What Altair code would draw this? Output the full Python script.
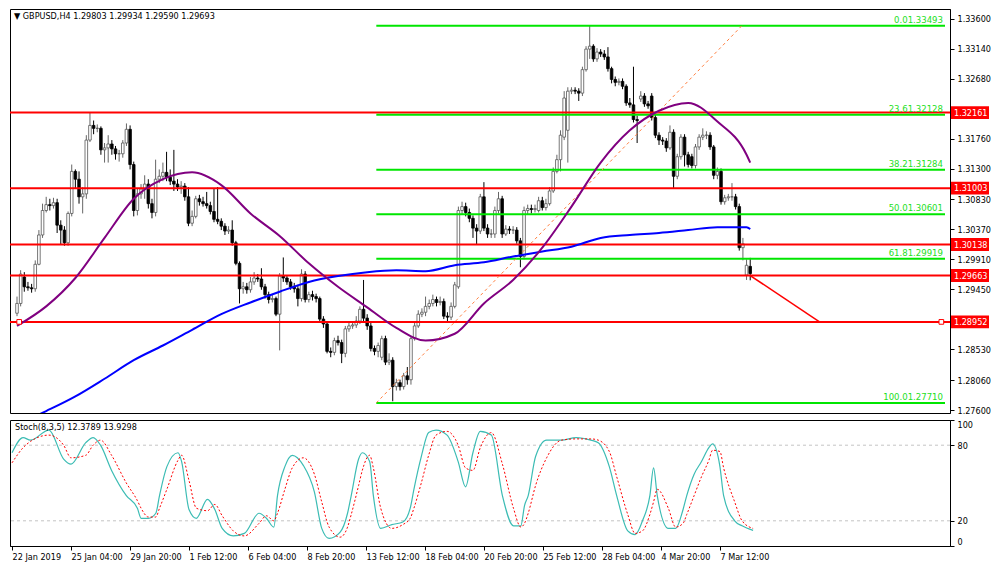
import json
import altair as alt
import pandas as pd

# ---------------- data ----------------
opens = [
    1.29085, 1.29235, 1.29640, 1.29490, 1.29475, 1.29460, 1.29835, 1.30285, 1.30660, 1.30750,
    1.30735, 1.30780, 1.30435, 1.30360, 1.30165, 1.30615, 1.31260, 1.31140, 1.30870, 1.30915,
    1.31740, 1.31965, 1.31920, 1.31920, 1.31590, 1.31620, 1.31680, 1.31605, 1.31530, 1.31530,
    1.31695, 1.31905, 1.31365, 1.30660, 1.30915, 1.30990, 1.31065, 1.30765, 1.30630, 1.31140,
    1.31185, 1.31245, 1.31170, 1.31110, 1.31065, 1.31020, 1.31035, 1.30870, 1.30465, 1.30570,
    1.30840, 1.30795, 1.30765, 1.30735, 1.30645, 1.30525, 1.30495, 1.30420, 1.30345, 1.30360,
    1.30165, 1.29850, 1.29460, 1.29490, 1.29445, 1.29565, 1.29625, 1.29610, 1.29490, 1.29370,
    1.29295, 1.29310, 1.29070, 1.29655, 1.29625, 1.29565, 1.29490, 1.29460, 1.29310, 1.29685,
    1.29295, 1.29370, 1.29340, 1.29310, 1.28995, 1.28920, 1.28500, 1.28485, 1.28665, 1.28635,
    1.28470, 1.28845, 1.28890, 1.28905, 1.28965, 1.29145, 1.29010, 1.28890, 1.28545, 1.28500,
    1.28410, 1.28695, 1.28335, 1.28365, 1.27960, 1.28020, 1.27960, 1.28125, 1.28065, 1.28695,
    1.28890, 1.29070, 1.29100, 1.29190, 1.29235, 1.29295, 1.29250, 1.29265, 1.29040, 1.29025,
    1.29190, 1.29490, 1.30660, 1.30720, 1.30630, 1.30540, 1.30390, 1.30345, 1.30870, 1.30390,
    1.30300, 1.30300, 1.30660, 1.30840, 1.30300, 1.30375, 1.30360, 1.30360, 1.30195, 1.29955,
    1.30660, 1.30690, 1.30675, 1.30660, 1.30810, 1.30705, 1.30765, 1.30960, 1.31260, 1.31440,
    1.31785, 1.31890, 1.32490, 1.32505, 1.32490, 1.32460, 1.32820, 1.33135, 1.33180, 1.32985,
    1.33090, 1.33060, 1.33015, 1.32835, 1.32670, 1.32625, 1.32640, 1.32565, 1.32310, 1.32280,
    1.32055, 1.32370, 1.32415, 1.32295, 1.32415, 1.32085, 1.31815, 1.31740, 1.31725, 1.31620,
    1.31860, 1.31185, 1.31485, 1.31785, 1.31515, 1.31485, 1.31350, 1.31635, 1.31785, 1.31815,
    1.31815, 1.31635, 1.31200, 1.31260, 1.30795, 1.30855, 1.30870, 1.30870, 1.30720, 1.30090,
    1.29670, 1.29803,
]
closes = [
    1.29235, 1.29685, 1.29490, 1.29475, 1.29460, 1.29835, 1.30285, 1.30660, 1.30750, 1.30735,
    1.30780, 1.30435, 1.30360, 1.30165, 1.30615, 1.31260, 1.31140, 1.30870, 1.30915, 1.31740,
    1.31965, 1.31920, 1.31920, 1.31590, 1.31620, 1.31680, 1.31605, 1.31530, 1.31530, 1.31695,
    1.31905, 1.31365, 1.30660, 1.30915, 1.30990, 1.31065, 1.30765, 1.30630, 1.31140, 1.31185,
    1.31245, 1.31170, 1.31110, 1.31065, 1.31020, 1.31035, 1.30870, 1.30465, 1.30570, 1.30840,
    1.30795, 1.30765, 1.30735, 1.30645, 1.30525, 1.30495, 1.30420, 1.30345, 1.30360, 1.30165,
    1.29850, 1.29460, 1.29490, 1.29445, 1.29565, 1.29625, 1.29610, 1.29490, 1.29370, 1.29295,
    1.29310, 1.29070, 1.29655, 1.29625, 1.29565, 1.29490, 1.29460, 1.29310, 1.29685, 1.29295,
    1.29370, 1.29340, 1.29310, 1.28995, 1.28920, 1.28500, 1.28485, 1.28665, 1.28635, 1.28470,
    1.28845, 1.28890, 1.28905, 1.28965, 1.29145, 1.29010, 1.28890, 1.28545, 1.28500, 1.28590,
    1.28695, 1.28335, 1.28365, 1.27960, 1.28020, 1.27960, 1.28125, 1.28065, 1.28695, 1.28890,
    1.29070, 1.29100, 1.29190, 1.29235, 1.29295, 1.29250, 1.29265, 1.29040, 1.29025, 1.29190,
    1.29520, 1.30660, 1.30720, 1.30630, 1.30540, 1.30390, 1.30345, 1.30870, 1.30390, 1.30300,
    1.30300, 1.30660, 1.30840, 1.30300, 1.30375, 1.30360, 1.30360, 1.30195, 1.29955, 1.30660,
    1.30690, 1.30675, 1.30690, 1.30810, 1.30705, 1.30765, 1.30960, 1.31260, 1.31440, 1.31815,
    1.32385, 1.32490, 1.32505, 1.32490, 1.32460, 1.32820, 1.33135, 1.33180, 1.32985, 1.33090,
    1.33060, 1.33015, 1.32835, 1.32670, 1.32625, 1.32640, 1.32565, 1.32310, 1.32280, 1.32055,
    1.32040, 1.32415, 1.32295, 1.32265, 1.32085, 1.31815, 1.31740, 1.31725, 1.31620, 1.31860,
    1.31185, 1.31485, 1.31785, 1.31515, 1.31365, 1.31350, 1.31635, 1.31785, 1.31815, 1.31815,
    1.31635, 1.31200, 1.31260, 1.30795, 1.30855, 1.30870, 1.30870, 1.30720, 1.30090, 1.30150,
    1.29820, 1.29693,
]
highs = [
    1.29340, 1.29745, 1.29715, 1.29565, 1.29535, 1.29895, 1.30360, 1.30765, 1.30870, 1.30840,
    1.30855, 1.30840, 1.30510, 1.30420, 1.30645, 1.31365, 1.31290, 1.31260, 1.31020, 1.31815,
    1.32160, 1.32040, 1.31980, 1.31950, 1.31695, 1.31815, 1.31740, 1.31650, 1.31590, 1.31740,
    1.31995, 1.31965, 1.31410, 1.30990, 1.31065, 1.31200, 1.31140, 1.30840, 1.31440, 1.31290,
    1.31395, 1.31560, 1.31290, 1.31590, 1.31140, 1.31110, 1.31080, 1.31020, 1.30660, 1.30885,
    1.30900, 1.30870, 1.30945, 1.30795, 1.30990, 1.31020, 1.30540, 1.30465, 1.30420, 1.30510,
    1.30195, 1.29880, 1.29565, 1.29550, 1.29640, 1.29715, 1.29685, 1.29775, 1.29535, 1.29415,
    1.29370, 1.29340, 1.29700, 1.29940, 1.29670, 1.29610, 1.29550, 1.29520, 1.29760, 1.29730,
    1.29415, 1.29430, 1.29385, 1.29340, 1.29040, 1.28950, 1.28560, 1.28710, 1.28740, 1.28680,
    1.28890, 1.28935, 1.28965, 1.29040, 1.29190, 1.29595, 1.29070, 1.28950, 1.28590, 1.28635,
    1.28740, 1.28740, 1.28470, 1.28410, 1.28080, 1.28065, 1.28170, 1.28260, 1.28740, 1.28950,
    1.29130, 1.29160, 1.29340, 1.29295, 1.29370, 1.29340, 1.29340, 1.29310, 1.29100, 1.29250,
    1.29565, 1.30720, 1.30795, 1.30780, 1.30690, 1.30585, 1.30450, 1.30915, 1.31095, 1.30450,
    1.30375, 1.30720, 1.30945, 1.30885, 1.30435, 1.30420, 1.30420, 1.30405, 1.30240, 1.30720,
    1.30750, 1.30750, 1.30750, 1.30870, 1.30870, 1.30840, 1.31020, 1.31320, 1.31515, 1.31890,
    1.32490, 1.32550, 1.32550, 1.32550, 1.32535, 1.32865, 1.33180, 1.33495, 1.33210, 1.33150,
    1.33135, 1.33120, 1.33165, 1.32865, 1.32715, 1.32685, 1.32685, 1.32595, 1.32385, 1.32865,
    1.32115, 1.32490, 1.32460, 1.32340, 1.32460, 1.32130, 1.31860, 1.31785, 1.31770, 1.31965,
    1.31905, 1.31530, 1.31830, 1.31830, 1.31560, 1.31530, 1.31680, 1.31830, 1.31920, 1.31875,
    1.31860, 1.31665, 1.31320, 1.31305, 1.30900, 1.30915, 1.31080, 1.30915, 1.30765, 1.30240,
    1.29910, 1.29934,
]
lows = [
    1.29040, 1.29190, 1.29415, 1.29430, 1.29400, 1.29415, 1.29820, 1.30240, 1.30630, 1.30660,
    1.30690, 1.30315, 1.30135, 1.30120, 1.30120, 1.30570, 1.30990, 1.30765, 1.30615, 1.30840,
    1.31710, 1.31830, 1.31860, 1.31515, 1.31395, 1.31395, 1.31515, 1.31440, 1.31410, 1.31470,
    1.31650, 1.31290, 1.30570, 1.30585, 1.30840, 1.30840, 1.30690, 1.30540, 1.30570, 1.31080,
    1.31110, 1.31110, 1.31050, 1.30960, 1.30960, 1.30915, 1.30810, 1.30420, 1.30420, 1.30540,
    1.30735, 1.30720, 1.30690, 1.30600, 1.30480, 1.30450, 1.30360, 1.30285, 1.30300, 1.30120,
    1.29820, 1.29235, 1.29385, 1.29385, 1.29400, 1.29520, 1.29565, 1.29445, 1.29310, 1.29235,
    1.29250, 1.29040, 1.28515, 1.29565, 1.29520, 1.29445, 1.29400, 1.29190, 1.29265, 1.29250,
    1.29250, 1.29280, 1.29250, 1.28950, 1.28860, 1.28470, 1.28410, 1.28440, 1.28590, 1.28320,
    1.28410, 1.28800, 1.28845, 1.28860, 1.28920, 1.28965, 1.28830, 1.28500, 1.28440, 1.28410,
    1.28365, 1.28290, 1.28290, 1.27735, 1.27900, 1.27900, 1.27915, 1.27990, 1.27990, 1.28665,
    1.28860, 1.29025, 1.29040, 1.29145, 1.29190, 1.29190, 1.29205, 1.28995, 1.28950, 1.28980,
    1.29160, 1.29460, 1.30600, 1.30570, 1.30480, 1.30240, 1.30135, 1.30300, 1.30345, 1.30240,
    1.30240, 1.30240, 1.30615, 1.30240, 1.30270, 1.30300, 1.30300, 1.30150, 1.29790, 1.29910,
    1.30600, 1.30615, 1.30630, 1.30630, 1.30660, 1.30660, 1.30735, 1.30930, 1.31230, 1.31260,
    1.31740, 1.31395, 1.32445, 1.32445, 1.32340, 1.32415, 1.32790, 1.32985, 1.32940, 1.32940,
    1.33015, 1.32970, 1.32790, 1.32610, 1.32565, 1.32580, 1.32520, 1.32265, 1.32235, 1.32010,
    1.31695, 1.32325, 1.32250, 1.32220, 1.32040, 1.31770, 1.31665, 1.31665, 1.31560, 1.31590,
    1.30990, 1.31140, 1.31440, 1.31335, 1.31320, 1.31305, 1.31305, 1.31590, 1.31740, 1.31755,
    1.31590, 1.31140, 1.31140, 1.30750, 1.30750, 1.30810, 1.30810, 1.30675, 1.30045, 1.29895,
    1.29595, 1.29590,
]

ma_bars = [0, 8, 16, 24, 32, 40, 48, 56, 64, 72, 80, 88, 96, 104, 112, 120, 128,
           136, 144, 152, 160, 168, 176, 184, 192, 200, 201]
ma_purple = [1.28890, 1.29190, 1.29625, 1.30240, 1.30840, 1.31140, 1.31245, 1.31050, 1.30615,
             1.30270, 1.29850, 1.29490, 1.29175, 1.28860, 1.28665, 1.28770, 1.29235, 1.29595,
             1.30090, 1.30720, 1.31395, 1.31890, 1.32190, 1.32310, 1.32025, 1.31515, 1.31395]
ma_blue = [1.27375, 1.27585, 1.27810, 1.28080, 1.28365, 1.28590, 1.28830, 1.29070, 1.29250,
           1.29415, 1.29565, 1.29655, 1.29715, 1.29745, 1.29730, 1.29820, 1.29865, 1.29955,
           1.30030, 1.30105, 1.30240, 1.30285, 1.30315, 1.30360, 1.30405, 1.30405, 1.30375]

red_levels = [1.32161, 1.31003, 1.30138, 1.29663, 1.28952]

fib_names = ["0.0", "23.6", "38.2", "50.0", "61.8", "100.0"]
fib_prices = [1.33493, 1.32128, 1.31284, 1.30601, 1.29919, 1.27710]
fib_anchor_bars = [98.5, 198.7]
fib_anchor_prices = [1.27710, 1.33493]

trend_bars = [201, 220]
trend_prices = [1.29663, 1.28952]

stoch_bars = [0, 3, 5, 10, 14, 16, 20, 22, 24, 27, 31, 34, 35, 37, 39, 40, 42, 45, 46, 48,
              50, 53, 55, 57, 60, 63, 67, 69, 71, 72, 74, 76, 79, 82, 84, 86, 89, 91, 92, 94,
              95, 97, 98, 100, 103, 106, 108, 109, 111, 113, 115, 118, 121, 123, 125, 127, 130, 133, 136, 138,
              139, 140, 142, 145, 149, 153, 157, 159, 162, 164, 167, 169, 171, 173, 174, 175, 178, 180, 182, 183,
              185, 187, 189, 190, 192, 193, 196, 198, 201]
stoch_k = [74, 86, 84, 92, 69, 65, 82, 86, 80, 60, 40, 30, 22, 22, 26, 40, 63, 74, 67, 29,
           22, 37, 29, 14, 8, 10, 26, 22, 15, 40, 63, 72, 64, 43, 14, 6, 11, 26, 40, 69,
           74, 67, 40, 14, 17, 19, 30, 45, 71, 90, 92, 88, 67, 47, 74, 91, 88, 40, 16, 16,
           32, 40, 71, 84, 84, 86, 84, 82, 63, 40, 12, 9, 20, 40, 62, 40, 14, 14, 29, 40,
           57, 67, 78, 81, 63, 40, 20, 16, 12.3789]
stoch_d = [66, 78, 83, 88, 80, 70, 72, 80, 84, 72, 50, 36, 30, 23, 23, 30, 45, 68, 72, 52,
           30, 28, 33, 24, 12, 8, 18, 24, 20, 26, 45, 62, 70, 57, 35, 15, 7, 15, 25, 48,
           60, 72, 62, 30, 14, 17, 22, 30, 50, 72, 88, 91, 80, 62, 60, 78, 90, 65, 30, 15,
           18, 26, 48, 70, 84, 85, 85, 84, 75, 55, 25, 10, 12, 25, 35, 45, 30, 15, 18, 25,
           40, 55, 68, 76, 75, 62, 35, 20, 13.9298]
stoch_levels = [20, 80]

price_ticks = [1.33600, 1.33140, 1.32680, 1.31760, 1.31300, 1.30830, 1.30370, 1.29910,
               1.29450, 1.28530, 1.28060, 1.27600]
stoch_ticks = [0, 20, 80, 100]
date_tick_bars = [0, 16, 32, 48, 64, 80, 96, 112, 128, 144, 160, 176, 192]
date_labels = ["22 Jan 2019", "25 Jan 04:00", "29 Jan 20:00", "1 Feb 12:00", "6 Feb 04:00",
               "8 Feb 20:00", "13 Feb 12:00", "18 Feb 04:00", "20 Feb 20:00", "25 Feb 12:00",
               "28 Feb 04:00", "4 Mar 20:00", "7 Mar 12:00"]

title_text = "\u25BC GBPUSD,H4  1.29803 1.29934 1.29590 1.29693"
stoch_text = "Stoch(8,3,5) 12.3789 13.9298"

# ---------------- layout ----------------
W = 940
H_MAIN = 404
H_STO = 126
FONT = "DejaVu Sans Condensed, DejaVu Sans, sans-serif"
FS = 9

xs = alt.Scale(domain=[-0.55, 254.4], nice=False, zero=False)
ys = alt.Scale(domain=[1.27555, 1.3375], nice=False, zero=False)
ss = alt.Scale(domain=[0, 100], nice=False, zero=False)

price_axis = alt.Axis(orient="right", values=price_ticks, format=".5f", title=None, grid=False,
                      tickSize=4, tickColor="black", domainColor="black", labelColor="black",
                      labelFont=FONT, labelFontSize=FS, labelPadding=3, labelOverlap=False)
date_expr = json.dumps(date_labels) + "[round(datum.value / 16)]"
x_axis = alt.Axis(values=date_tick_bars, labelExpr=date_expr, labelAlign="left", title=None,
                  grid=False, tickSize=4, tickColor="black", domainColor="black",
                  labelColor="black", labelFont=FONT, labelFontSize=FS, labelPadding=2,
                  labelOverlap=False, labelFlush=False)
sto_axis = alt.Axis(orient="right", values=stoch_ticks, title=None, grid=False, tickSize=4,
                    tickColor="black", domainColor="black", labelColor="black", labelFont=FONT,
                    labelFontSize=FS, labelPadding=3, labelFlush=True, labelOverlap=False)


def X(f):
    return alt.X(f, type="quantitative", scale=xs, axis=None)


def Yp(f):
    return alt.Y(f, type="quantitative", scale=ys, axis=price_axis)


def Xs(f):
    return alt.X(f, type="quantitative", scale=xs, axis=x_axis)


def Ys(f):
    return alt.Y(f, type="quantitative", scale=ss, axis=sto_axis)


candles = pd.DataFrame({"bar": list(range(len(closes))), "open": opens, "high": highs,
                        "low": lows, "close": closes})
up_cond = "datum.close >= datum.open"

wicks = alt.Chart(candles).mark_rule(strokeWidth=1).encode(
    x=X("bar"), y=Yp("low"), y2="high:Q",
    color=alt.condition(up_cond, alt.value("#666666"), alt.value("#000000")),
)
bodies = alt.Chart(candles).mark_bar(size=2.6, strokeWidth=0.8).encode(
    x=X("bar"), y=Yp("open"), y2="close:Q",
    fill=alt.condition(up_cond, alt.value("#ffffff"), alt.value("#000000")),
    stroke=alt.condition(up_cond, alt.value("#555555"), alt.value("#000000")),
)

red_df = pd.DataFrame({"price": red_levels, "label": [f"{p:.5f}" for p in red_levels]})
red_lines = alt.Chart(red_df).mark_rule(color="#ff0000", strokeWidth=2).encode(y=Yp("price"))
red_boxes = alt.Chart(red_df).mark_point(shape="M-1,-0.34H1V0.34H-1Z", size=1444, filled=True,
                                         color="#ff0000", opacity=1).encode(
    x=alt.value(W + 20), y=Yp("price"))
red_texts = alt.Chart(red_df).mark_text(align="left", baseline="middle", color="white",
                                        font=FONT, fontSize=FS).encode(
    x=alt.value(W + 4), y=Yp("price"), text="label:N")

fib_df = pd.DataFrame({"price": fib_prices,
                       "label": [n + f"{p:.5f}" for n, p in zip(fib_names, fib_prices)],
                       "start": fib_anchor_bars[0], "end": 254.4})
fib_lines = alt.Chart(fib_df).mark_rule(color="#00e600", strokeWidth=2).encode(
    x=X("start"), x2="end:Q", y=Yp("price"))
fib_texts = alt.Chart(fib_df).mark_text(align="right", baseline="bottom", dx=-2, dy=-1,
                                        color="#22e022", font=FONT, fontSize=FS + 0.5).encode(
    x=X("end"), y=Yp("price"), text="label:N")

diag_df = pd.DataFrame({"bar": fib_anchor_bars, "price": fib_anchor_prices})
diag = alt.Chart(diag_df).mark_line(color="#ff7f3f", strokeWidth=1, strokeDash=[3, 3]).encode(
    x=X("bar"), y=Yp("price"))

trend_df = pd.DataFrame({"bar": trend_bars, "price": trend_prices})
trend = alt.Chart(trend_df).mark_line(color="#ff0000", strokeWidth=1.5).encode(
    x=X("bar"), y=Yp("price"))

ma_df = pd.DataFrame({"bar": ma_bars, "purple": ma_purple, "blue": ma_blue})
purple = alt.Chart(ma_df).mark_line(color="#800080", strokeWidth=2, interpolate="monotone",
                                    clip=True).encode(x=X("bar"), y=Yp("purple"))
blue = alt.Chart(ma_df).mark_line(color="#0000ff", strokeWidth=2, interpolate="monotone",
                                  clip=True).encode(x=X("bar"), y=Yp("blue"))

anchor_df = pd.DataFrame({"bar": [0.6, 253.4], "price": [1.28952, 1.28952]})
anchors = alt.Chart(anchor_df).mark_point(shape="square", size=22, filled=True, fill="white",
                                          stroke="#ff0000", strokeWidth=1, opacity=1).encode(
    x=X("bar"), y=Yp("price"))

title_df = pd.DataFrame({"t": [title_text]})
title = alt.Chart(title_df).mark_text(align="left", baseline="top", font=FONT, fontSize=FS,
                                      color="black").encode(
    x=alt.value(4), y=alt.value(3), text="t:N")

main = alt.layer(wicks, bodies, red_lines, fib_lines, diag, blue, purple, trend, anchors,
                 fib_texts, red_boxes, red_texts, title).properties(width=W, height=H_MAIN)

# stochastic panel
sto_df = pd.DataFrame({"bar": stoch_bars, "k": stoch_k, "d": stoch_d})
lvl_df = pd.DataFrame({"v": stoch_levels})
levels = alt.Chart(lvl_df).mark_rule(color="#c4c4c4", strokeDash=[3, 3], strokeWidth=1).encode(
    y=Ys("v"))
k_line = alt.Chart(sto_df).mark_line(color="#3cbcb4", strokeWidth=1.2,
                                     interpolate="monotone").encode(x=Xs("bar"), y=Ys("k"))
d_line = alt.Chart(sto_df).mark_line(color="#ff0000", strokeWidth=1, strokeDash=[2, 2],
                                     interpolate="monotone").encode(x=Xs("bar"), y=Ys("d"))
sto_title_df = pd.DataFrame({"t": [stoch_text]})
sto_title = alt.Chart(sto_title_df).mark_text(align="left", baseline="top", font=FONT,
                                              fontSize=FS, color="black").encode(
    x=alt.value(5), y=alt.value(3), text="t:N")

sto = alt.layer(levels, k_line, d_line, sto_title).properties(width=W, height=H_STO)

chart = alt.vconcat(main, sto, spacing=3).properties(
    padding={"left": 0, "top": 0, "right": 0, "bottom": 0},
    background="white",
).configure_view(stroke="#000000", strokeWidth=1)

chart.save("out.html", embed_options={"renderer": "svg", "actions": False})
